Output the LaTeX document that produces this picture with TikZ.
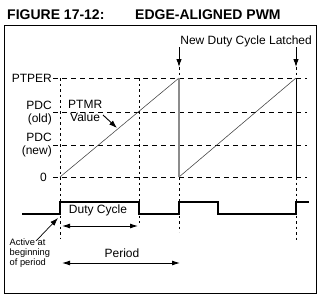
\documentclass[tikz,border=0pt]{standalone}
\usepackage{fontspec}
\setmainfont{Liberation Sans}
\usetikzlibrary{arrows.meta}
\begin{document}
\begin{tikzpicture}[x=1pt,y=-1pt,
  lbl/.style={inner sep=0pt, font=\fontsize{12}{13}\selectfont},
  twoline/.style={inner sep=0pt, font=\fontsize{12}{13}\selectfont, align=right},
  small/.style={inner sep=0pt, font=\fontsize{9.3}{10}\selectfont, align=left},
  ttl/.style={inner sep=0pt, font=\fontsize{14}{16}\selectfont\bfseries},
  dashln/.style={line width=1pt, dash pattern=on 5pt off 4pt},
  dotln/.style={line width=1pt, dash pattern=on 2.5pt off 3pt},
  ramp/.style={line width=0.55pt, black!75},
  wave/.style={line width=1.1pt},
  arr/.style={line width=0.9pt, -{Latex[length=8pt,width=5.5pt]}},
  darr/.style={line width=0.9pt, {Latex[length=8pt,width=5pt]}-{Latex[length=8pt,width=5pt]}},
  ]
\useasboundingbox (0,0) rectangle (327,306);
% title
\node[ttl, anchor=west] (t1) at (7,15) {FIGURE 17-12:};
\node[ttl, anchor=west] (t2) at (135,15) {EDGE-ALIGNED PWM};
% frame
\draw[line width=1pt] (4,25) rectangle (316,293);
% level labels
\node[lbl, anchor=east] (ptper) at (52,78) {PTPER};
\node[twoline, anchor=east] (pdcold) at (52,113) {PDC\\(old)};
\node[twoline, anchor=east] (pdcnew) at (52,145) {PDC\\(new)};
\node[lbl, anchor=east] (zero) at (47,177) {0};
% coordinates
\coordinate (a0) at (60,177); \coordinate (a1) at (179,78);
\coordinate (b0) at (179,177); \coordinate (b1) at (296,78);
% horizontal dashed
\draw[dashln] (53,78) -- (307,78);
\draw[dashln] (53,112) -- (307,112);
\draw[dashln] (53,145) -- (307,145);
\draw[dashln] (53,177) -- (307,177);
% vertical dotted
\draw[dotln] (60,78) -- (60,238);
\draw[dotln] (139,78) -- (139,223);
\draw[dotln] (179,67) -- (179,232);
\draw[dotln] (296,67) -- (296,240);
% ramps
\draw[ramp] (a0) -- (a1);
\draw[ramp] (b0) -- (b1);
\draw[line width=1.3pt, black!45] (a1) -- (b0);
\draw[line width=0.9pt] (b1) -- (296,177);
% latched
\node[lbl, anchor=east] (latch) at (312,41) {New Duty Cycle Latched};
\coordinate (l1s) at (179,47); \coordinate (l1e) at (179,67);
\coordinate (l2s) at (296,47); \coordinate (l2e) at (296,67);
\draw[arr] (l1s) -- (l1e);
\draw[arr] (l2s) -- (l2e);
% PTMR value
\node[lbl, anchor=north west] (ptmr) at (68,100) {PTMR};
\node[lbl, anchor=north west] (value) at (70,112.5) {Value};
\coordinate (rp) at (117,128);
\draw[arr] (103,115) -- (rp);
% waveform
\draw[wave] (22,214) -- (60,214) -- (60,202) -- (139,202) -- (139,214) -- (179,214) -- (179,202) -- (218,202) -- (218,214) -- (296,214) -- (296,202) -- (309,202);
\node[lbl] (duty) at (98,210) {Duty Cycle};
\coordinate (d0) at (62,226); \coordinate (d1) at (138,226);
\draw[darr] (d0) -- (d1);
\node[lbl] (period) at (122,253) {Period};
\coordinate (p0) at (62,263); \coordinate (p1) at (180,263);
\draw[darr] (p0) -- (p1);
% active
\node[small, anchor=north west] (active) at (9.5,239) {Active at\\beginning\\of period};
\coordinate (ae) at (58,218);
\draw[arr, line width=0.7pt] (36,241) -- (ae);
\end{tikzpicture}
\end{document}
